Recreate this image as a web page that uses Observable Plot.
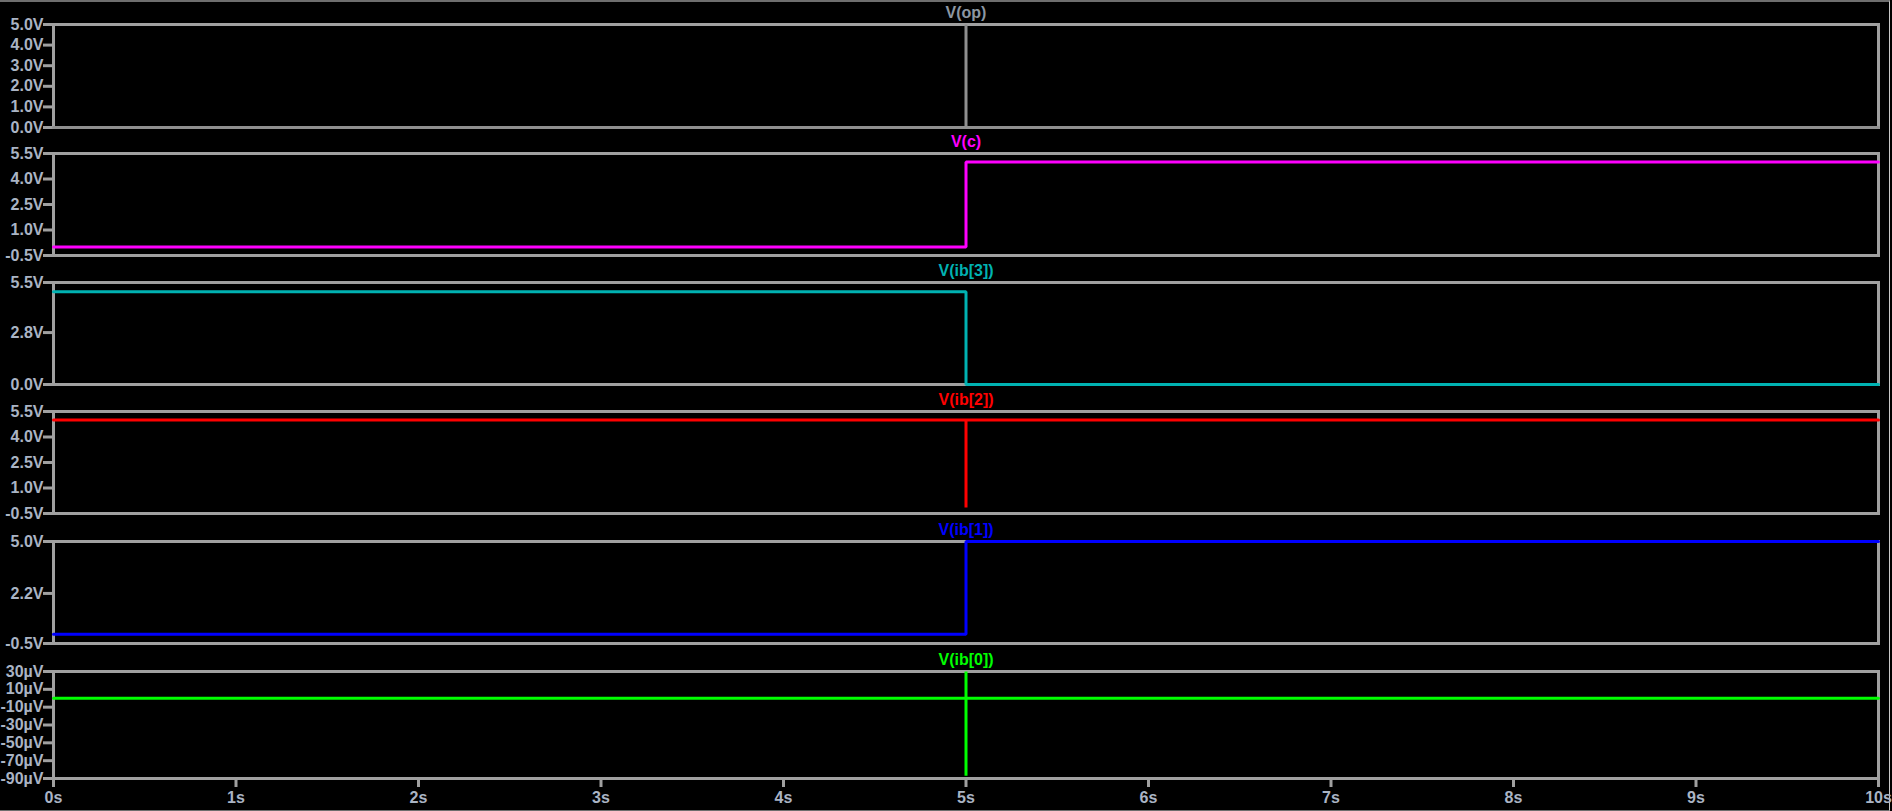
<!DOCTYPE html>
<html><head><meta charset="utf-8">
<script src="https://cdn.jsdelivr.net/npm/d3@7"></script>
<script src="https://cdn.jsdelivr.net/npm/@observablehq/plot@0.6"></script>
<style>
html,body{margin:0;padding:0;background:#000;width:1892px;height:811px;overflow:hidden;}
#root{position:relative;width:1892px;height:811px;}
.panel{position:absolute;left:0;z-index:1;}
.panel svg{background:transparent;overflow:visible;display:block;max-width:none !important}
#edge{position:absolute;left:0;top:0;width:1889px;height:808px;border-top:2px solid #6e6e6e;border-right:1px solid #c8c8c8;border-bottom:1px solid #6e6e6e;box-sizing:content-box;pointer-events:none;z-index:0}
</style></head><body><div id="root"><div id="edge"></div></div>
<script>
// ---- data ----
const titles = ["V(op)", "V(c)", "V(ib[3])", "V(ib[2])", "V(ib[1])", "V(ib[0])"];
const traceColors = ["#8f8f8f", "#ff00ff", "#00b2b2", "#ff0000", "#0000ff", "#00ff00"];
const titleColors = ["#8c96a2", "#ff00ff", "#00b2b2", "#ff0000", "#0000ff", "#00ff00"];

const t_op = [0, 5, 5, 5, 10];
const v_op = [0, 0, 5, 0, 0];
const t_c = [0, 5, 5, 10];
const v_c = [0, 0, 5, 5];
const t_ib3 = [0, 5, 5, 10];
const v_ib3 = [5, 5, 0, 0];
const t_ib2 = [0, 5, 5, 5, 10];
const v_ib2 = [5, 5, -0.15, 5, 5];
const t_ib1 = [0, 5, 5, 10];
const v_ib1 = [0, 0, 5, 5];
const t_ib0 = [0, 5, 5, 5, 5, 10];
const v_ib0 = [0, 0, 30, -87, 0, 0]; // µV

const yDomains = [[0, 5], [-0.5, 5.5], [0, 5.5], [-0.5, 5.5], [-0.5, 5.0], [-90, 30]];
const yTicks = [
  [0, 1, 2, 3, 4, 5],
  [-0.5, 1.0, 2.5, 4.0, 5.5],
  [0, 2.8, 5.5],
  [-0.5, 1.0, 2.5, 4.0, 5.5],
  [-0.5, 2.2, 5.0],
  [-90, -70, -50, -30, -10, 10, 30]
];
const yUnits = ["V", "V", "V", "V", "V", "µV"];
const xTicks = [0, 1, 2, 3, 4, 5, 6, 7, 8, 9, 10];
const xUnit = "s";

const times = [t_op, t_c, t_ib3, t_ib2, t_ib1, t_ib0];
const values = [v_op, v_c, v_ib3, v_ib2, v_ib1, v_ib0];

// ---- layout ----
const W = 1892, ML = 53, MR = 14, MT = 24;
const tops = [24, 153, 282, 411, 541, 671];
const bottoms = [127, 255, 384, 513, 643, 778];
const frameColor = "#a0a0a0";
const labelColor = "#aab4c4";
const font = "'Liberation Sans', Arial, sans-serif";

const root = document.getElementById("root");
for (let i = 0; i < 6; i++) {
  const last = i === 5;
  const h = bottoms[i] - tops[i];
  const MB = last ? 34 : 4;
  const data = times[i].map((t, k) => ({t, v: values[i][k]}));
  const unit = yUnits[i];
  const fmtY = unit === "µV" ? (d => d + "µV") : (d => d.toFixed(1) + "V");
  const marks = [
    Plot.frame({stroke: frameColor, strokeWidth: 3}),
    Plot.axisY({ticks: yTicks[i], tickFormat: fmtY, tickSize: 10, tickPadding: 0,
      stroke: frameColor, fill: labelColor, strokeWidth: 3, label: null}),
    Plot.line(data, {x: "t", y: "v", stroke: traceColors[i], strokeWidth: 3, strokeLinejoin: "miter"}),
    Plot.text([titles[i]], {frameAnchor: "top", lineAnchor: "middle", dy: -12, text: d => d,
      fill: titleColors[i], fontWeight: "bold", fontSize: 16})
  ];
  if (last) {
    marks.push(Plot.axisX({ticks: xTicks, tickFormat: d => d + xUnit, tickSize: 9, tickPadding: 4,
      stroke: frameColor, fill: labelColor, strokeWidth: 3, label: null}));
  }
  const svg = Plot.plot({
    width: W,
    height: MT + h + MB,
    marginLeft: ML, marginRight: MR, marginTop: MT, marginBottom: MB,
    x: {domain: [0, 10], axis: null},
    y: {domain: yDomains[i], axis: null},
    style: {background: "transparent", fontFamily: font, fontSize: "16px", fontWeight: "bold", color: labelColor, overflow: "visible"},
    marks
  });
  const div = document.createElement("div");
  div.className = "panel";
  div.style.top = (tops[i] - MT) + "px";
  div.appendChild(svg);
  root.appendChild(div);
}
</script>
</body></html>
